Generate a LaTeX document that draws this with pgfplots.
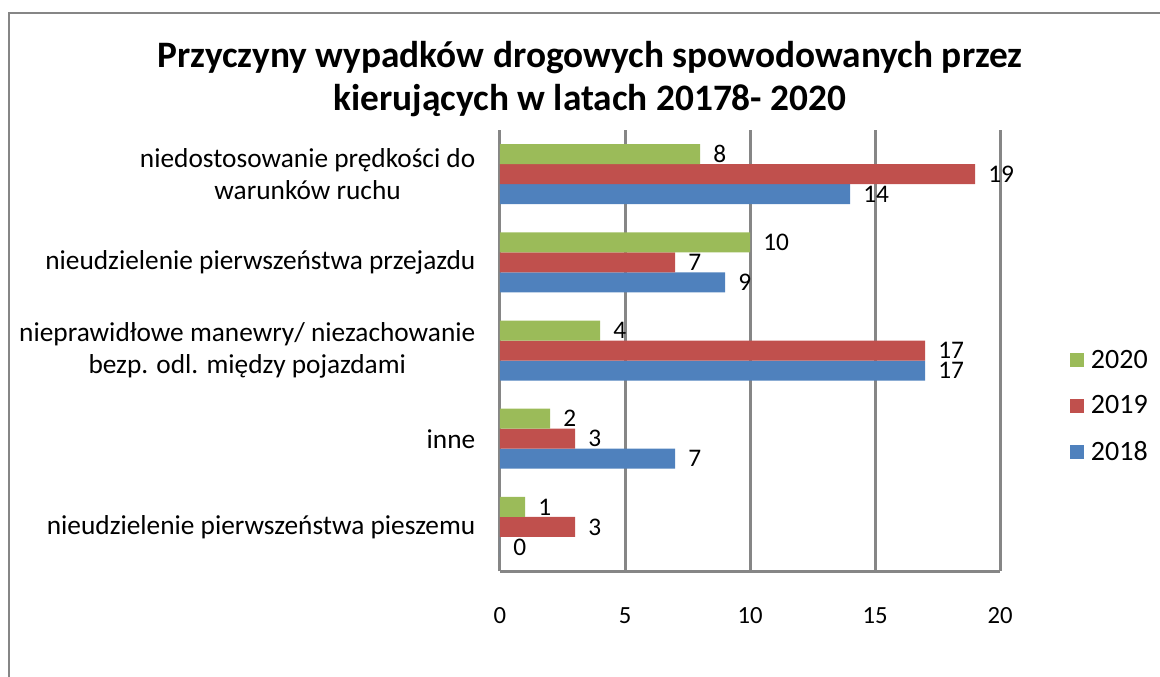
\documentclass[border=0pt]{standalone}
\usepackage{pgfplots}
\pgfplotsset{compat=1.18}
\usepackage{fontspec}
\setmainfont{Carlito}
\definecolor{cgreen}{HTML}{9BBB59}
\definecolor{cred}{HTML}{C0504D}
\definecolor{cblue}{HTML}{4F81BD}
\definecolor{cgrid}{HTML}{868686}
\begin{document}
\begin{tikzpicture}
\path[use as bounding box] (0,0) rectangle (870pt,-507.75pt);
\draw[cgrid,line width=1.5pt] (6.75pt,-507.75pt) -- (6.75pt,-9.75pt) -- (870pt,-9.75pt);
\node[align=center,font=\fontsize{28}{32}\selectfont\bfseries] at (442.5pt,-59.5pt)
  {Przyczyny wypadków drogowych spowodowanych przez\\kierujących w latach 20178- 2020};
\begin{axis}[
  at={(375pt,-428.25pt)}, anchor=south west,
  scale only axis, width=375pt, height=330.75pt,
  xbar=0pt, bar width=15pt,
  xmin=0, xmax=20, ymin=-0.5, ymax=4.5,
  xtick={0,5,10,15,20}, ytick={0,1,2,3,4},
  yticklabels={{nieudzielenie pierwszeństwa pieszemu},{inne},{nieprawidłowe manewry/ niezachowanie\\bezp. odl. między pojazdami},{nieudzielenie pierwszeństwa przejazdu},{niedostosowanie prędkości do\\warunków ruchu}},
  axis x line*=bottom, axis y line*=left,
  axis line style={cgrid,line width=2.25pt,-},
  xmajorgrids, major grid style={cgrid,line width=2.25pt},
  major tick length=0pt,
  xticklabel style={font=\fontsize{18.5}{21}\selectfont,yshift=-24pt},
  /pgf/number format/assume math mode=true,
  yticklabel style={font=\fontsize{20.5}{23.5}\selectfont,align=center,xshift=-15pt},
  nodes near coords,
  nodes near coords style={anchor=west,xshift=6.5pt,font=\fontsize{19}{21}\selectfont,/pgf/number format/assume math mode=true},
  reverse legend,
  legend style={draw=none,fill=none,at={(axis description cs:1.14,0.374)},anchor=west,font=\fontsize{21}{23}\selectfont,row sep=15pt,inner sep=0pt},
  legend cell align=left,
  legend image code/.code={\fill[#1] (0pt,-5.25pt) rectangle (10.5pt,5.25pt);},
  legend style={nodes={inner xsep=5pt}},
]
\addplot[draw=none,fill=cblue] coordinates {(0,0) (7,1) (17,2) (9,3) (14,4)};
\addplot[draw=none,fill=cred] coordinates {(3,0) (3,1) (17,2) (7,3) (19,4)};
\addplot[draw=none,fill=cgreen] coordinates {(1,0) (2,1) (4,2) (10,3) (8,4)};
\legend{2018,2019,2020}
\end{axis}
\end{tikzpicture}
\end{document}
